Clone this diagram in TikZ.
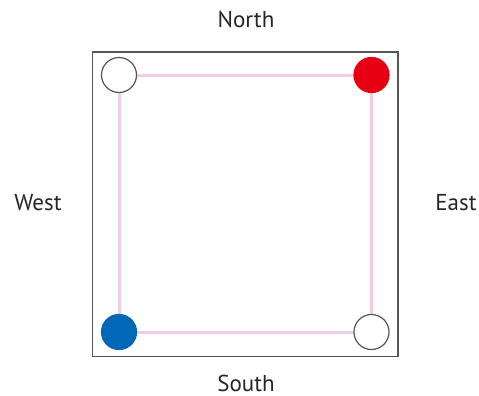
\documentclass[tikz,border=0pt]{standalone}
\usepackage{fontspec}
\setmainfont{PT Sans}
\definecolor{pinkline}{RGB}{240,205,228}
\definecolor{frame}{RGB}{85,85,85}
\definecolor{redc}{RGB}{230,0,18}
\definecolor{bluec}{RGB}{0,104,183}
\begin{document}
\begin{tikzpicture}[x=1pt,y=-1pt,
  dot/.style={circle,minimum size=35pt,inner sep=0pt,draw=frame,line width=1.2pt},
  lbl/.style={font=\fontsize{23}{26}\selectfont,text=black!85,inner sep=0pt},
  link/.style={draw=pinkline,line width=3pt}]
\useasboundingbox (0,0) rectangle (479,396);
\fill[white] (0,0) rectangle (479,396);
\draw[frame,line width=1.2pt] (92.5,52) rectangle (398,356.5);
\coordinate (nw) at (119,75);
\coordinate (ne) at (371.5,75);
\coordinate (sw) at (119,332);
\coordinate (se) at (371.5,332);
\draw[link] (nw) -- (ne) -- (se) -- (sw) -- cycle;
\node[dot,fill=white] (a) at (nw) {};
\node[dot,fill=redc,draw=redc] (b) at (ne) {};
\node[dot,fill=bluec,draw=bluec] (c) at (sw) {};
\node[dot,fill=white] (d) at (se) {};
\node[lbl] (n) at (246,19) {North};
\node[lbl] (s) at (246,383) {South};
\node[lbl] (w) at (38,203) {West};
\node[lbl] (e) at (456,203) {East};
\end{tikzpicture}
\end{document}
